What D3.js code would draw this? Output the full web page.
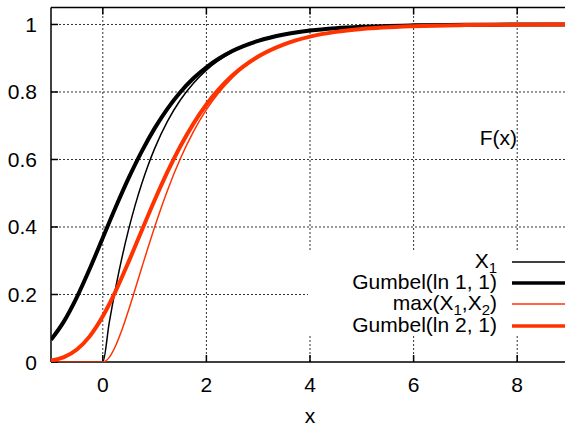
<!DOCTYPE html>
<html><head><meta charset="utf-8">
<script src="https://cdn.jsdelivr.net/npm/d3@7"></script>
<style>body{margin:0;background:#fff}svg{display:block}text{font-family:"Liberation Sans",Arial,sans-serif;fill:#000}</style>
</head><body>
<script>
// x samples for Gumbel curves
const xsAll = [-1,-0.75,-0.5,-0.25,0,0.25,0.5,0.75,1,1.25,1.5,1.75,2,2.5,3,3.5,4,4.5,5,6,7,8,9];
const gumbel1 = [0.066,0.1204,0.1923,0.2769,0.3679,0.459,0.5453,0.6235,0.6922,0.7509,0.8,0.8405,0.8734,0.9212,0.9514,0.9702,0.9819,0.989,0.9933,0.9975,0.9991,0.9997,0.9999];
const gumbel2 = [0.0044,0.0145,0.037,0.0767,0.1353,0.2107,0.2974,0.3888,0.4791,0.5639,0.64,0.7064,0.7628,0.8486,0.9052,0.9413,0.9641,0.9781,0.9866,0.995,0.9982,0.9993,0.9998];
// x samples for X1 and max(X1,X2)
const xsPos = [-1,0,0.125,0.25,0.375,0.5,0.625,0.75,0.875,1,1.25,1.5,1.75,2,2.5,3,3.5,4,4.5,5,6,7,8,9];
const x1Cdf = [0,0,0.1175,0.2212,0.3127,0.3935,0.4647,0.5276,0.5831,0.6321,0.7135,0.7769,0.8262,0.8647,0.9179,0.9502,0.9698,0.9817,0.9889,0.9933,0.9975,0.9991,0.9997,0.9999];
const maxCdf = [0,0,0.0138,0.0489,0.0978,0.1548,0.216,0.2784,0.34,0.3996,0.5091,0.6036,0.6826,0.7477,0.8425,0.9029,0.9405,0.9637,0.9779,0.9866,0.995,0.9982,0.9993,0.9998];
const xTicks = [0,2,4,6,8];
const yTicks = [0,0.2,0.4,0.6,0.8,1];
const seriesNames = ["X1","Gumbel(ln 1, 1)","max(X1,X2)","Gumbel(ln 2, 1)"];

const W=565,H=428, RED="#ff3300";
const x = d3.scaleLinear().domain([-1,9]).range([51,569]);
const y = d3.scaleLinear().domain([0,1.05]).range([362,7.6]);
const svg = d3.select("body").append("svg").attr("width",W).attr("height",H);

// grid
const grid = svg.append("g").attr("stroke","#333").attr("stroke-width",1).attr("stroke-dasharray","2,2");
xTicks.forEach(t=>grid.append("line").attr("x1",x(t)).attr("x2",x(t)).attr("y1",y(0)).attr("y2",y(1.05)));
yTicks.filter(t=>t>0).forEach(t=>grid.append("line").attr("x1",x(-1)).attr("x2",W).attr("y1",y(t)).attr("y2",y(t)));
// legend box blanking grid
svg.append("rect").attr("x",308).attr("y",251).attr("width",W-308).attr("height",85).attr("fill","#fff");

// axes frame
const frame = svg.append("g").attr("stroke","#000").attr("stroke-width",1.5).attr("fill","none");
frame.append("line").attr("x1",x(-1)).attr("x2",x(-1)).attr("y1",y(0)).attr("y2",y(1.05));
frame.append("line").attr("x1",x(-1)).attr("x2",W).attr("y1",y(1.05)).attr("y2",y(1.05));
frame.append("line").attr("x1",x(-1)).attr("x2",W).attr("y1",y(0)).attr("y2",y(0));
xTicks.forEach(t=>{frame.append("line").attr("x1",x(t)).attr("x2",x(t)).attr("y1",y(0)).attr("y2",y(0)-7);
  frame.append("line").attr("x1",x(t)).attr("x2",x(t)).attr("y1",y(1.05)).attr("y2",y(1.05)+7);});
yTicks.forEach(t=>frame.append("line").attr("x1",x(-1)).attr("x2",x(-1)+7).attr("y1",y(t)).attr("y2",y(t)));

// tick labels
yTicks.forEach(t=>svg.append("text").attr("x",37).attr("y",y(t)+7.5).attr("text-anchor","end").attr("font-size",21).text(t===0?"0":(t===1?"1":t.toFixed(1))));
xTicks.forEach(t=>svg.append("text").attr("x",x(t)).attr("y",392).attr("text-anchor","middle").attr("font-size",21).text(t));
svg.append("text").attr("x",310).attr("y",423).attr("text-anchor","middle").attr("font-size",21).text("x");
svg.append("text").attr("x",517).attr("y",145).attr("text-anchor","end").attr("font-size",21).text("F(x)");

// curves
svg.append("clipPath").attr("id","c").append("rect").attr("x",x(-1)).attr("y",y(1.05)).attr("width",W).attr("height",y(0)-y(1.05));
const line = d3.line().x(d=>x(d[0])).y(d=>y(d[1])).curve(d3.curveMonotoneX);
const zip=(a,b)=>a.map((v,i)=>[v,b[i]]);
const series = [
  {name:seriesNames[0], data:zip(xsPos,x1Cdf), color:"#000", w:1.5},
  {name:seriesNames[1], data:zip(xsAll,gumbel1), color:"#000", w:4},
  {name:seriesNames[2], data:zip(xsPos,maxCdf), color:RED, w:1.5},
  {name:seriesNames[3], data:zip(xsAll,gumbel2), color:RED, w:4}
];
const cg = svg.append("g").attr("clip-path","url(#c)");
series.forEach(s=>cg.append("path").attr("d",line(s.data)).attr("fill","none").attr("stroke",s.color).attr("stroke-width",s.w).attr("stroke-linejoin","round"));

// legend
const rowsY=[262,283,304,326];
series.forEach((s,i)=>{
  svg.append("line").attr("x1",512).attr("x2",W).attr("y1",rowsY[i]).attr("y2",rowsY[i]).attr("stroke",s.color).attr("stroke-width",s.w===4?3.5:1.5);
  const t = svg.append("text").attr("x",497).attr("y",rowsY[i]+6).attr("text-anchor","end").attr("font-size",21);
  if(i===0){t.append("tspan").text("X");t.append("tspan").attr("font-size",15).attr("dy",5).text("1");}
  else if(i===2){t.append("tspan").text("max(X");t.append("tspan").attr("font-size",15).attr("dy",5).text("1");
    t.append("tspan").attr("dy",-5).text(",X");t.append("tspan").attr("font-size",15).attr("dy",5).text("2");t.append("tspan").attr("dy",-5).text(")");}
  else t.text(s.name);
});
</script>
</body></html>
